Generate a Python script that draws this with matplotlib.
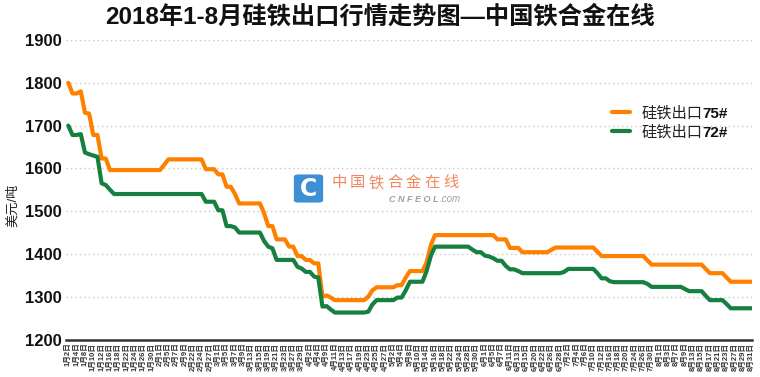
import matplotlib
matplotlib.use('Agg')
import matplotlib.pyplot as plt
from matplotlib.patches import FancyBboxPatch

FAM = ['Liberation Sans', 'Noto Sans CJK SC', 'DejaVu Sans']
plt.rcParams['font.family'] = FAM

# ---------------- data ----------------
dates = [
    "1月2日", "1月3日", "1月4日", "1月5日", "1月8日", "1月9日", "1月10日", "1月11日", "1月12日", "1月15日",
    "1月16日", "1月17日", "1月18日", "1月19日", "1月22日", "1月23日", "1月24日", "1月25日", "1月26日", "1月29日",
    "1月30日", "1月31日", "2月1日", "2月2日", "2月5日", "2月6日", "2月7日", "2月8日", "2月9日", "2月12日",
    "2月22日", "2月23日", "2月24日", "2月26日", "2月27日", "2月28日", "3月1日", "3月2日", "3月5日", "3月6日",
    "3月7日", "3月8日", "3月9日", "3月12日", "3月13日", "3月14日", "3月15日", "3月16日", "3月19日", "3月20日",
    "3月21日", "3月22日", "3月23日", "3月26日", "3月27日", "3月28日", "3月29日", "3月30日", "4月2日", "4月3日",
    "4月4日", "4月8日", "4月9日", "4月10日", "4月11日", "4月12日", "4月13日", "4月16日", "4月17日", "4月18日",
    "4月19日", "4月20日", "4月23日", "4月24日", "4月25日", "4月26日", "4月27日", "4月28日", "5月2日", "5月3日",
    "5月4日", "5月7日", "5月8日", "5月9日", "5月10日", "5月11日", "5月14日", "5月15日", "5月16日", "5月17日",
    "5月18日", "5月21日", "5月22日", "5月23日", "5月24日", "5月25日", "5月28日", "5月29日", "5月30日", "5月31日",
    "6月1日", "6月4日", "6月5日", "6月6日", "6月7日", "6月8日", "6月11日", "6月12日", "6月13日", "6月14日",
    "6月15日", "6月19日", "6月20日", "6月21日", "6月22日", "6月25日", "6月26日", "6月27日", "6月28日", "6月29日",
    "7月2日", "7月3日", "7月4日", "7月5日", "7月6日", "7月9日", "7月10日", "7月11日", "7月12日", "7月13日",
    "7月16日", "7月17日", "7月18日", "7月19日", "7月20日", "7月23日", "7月24日", "7月25日", "7月26日", "7月27日",
    "7月30日", "7月31日", "8月1日", "8月2日", "8月3日", "8月6日", "8月7日", "8月8日", "8月9日", "8月10日",
    "8月13日", "8月14日", "8月15日", "8月16日", "8月17日", "8月20日", "8月21日", "8月22日", "8月23日", "8月24日",
    "8月27日", "8月28日", "8月29日", "8月30日", "8月31日",
]

fesi75 = [
    1800, 1775, 1775, 1780, 1730, 1728, 1678, 1678, 1623, 1623,
    1596, 1596, 1596, 1596, 1596, 1596, 1596, 1596, 1596, 1596,
    1596, 1596, 1596, 1608, 1621, 1621, 1621, 1621, 1621, 1621,
    1621, 1621, 1621, 1598, 1598, 1598, 1586, 1586, 1557, 1557,
    1540, 1518, 1518, 1518, 1518, 1518, 1518, 1495, 1465, 1465,
    1434, 1434, 1434, 1417, 1417, 1395, 1395, 1386, 1386, 1378,
    1378, 1300, 1303, 1298, 1292, 1292, 1292, 1292, 1292, 1292,
    1292, 1292, 1300, 1315, 1322, 1322, 1322, 1322, 1322, 1327,
    1327, 1345, 1360, 1360, 1360, 1360, 1380, 1420, 1444, 1444,
    1444, 1444, 1444, 1444, 1444, 1444, 1444, 1444, 1444, 1444,
    1444, 1444, 1444, 1434, 1434, 1434, 1414, 1414, 1414, 1404,
    1404, 1404, 1404, 1404, 1404, 1404, 1410, 1415, 1415, 1415,
    1415, 1415, 1415, 1415, 1415, 1415, 1415, 1405, 1395, 1395,
    1395, 1395, 1395, 1395, 1395, 1395, 1395, 1395, 1395, 1385,
    1375, 1375, 1375, 1375, 1375, 1375, 1375, 1375, 1375, 1375,
    1375, 1375, 1375, 1365, 1355, 1355, 1355, 1355, 1345, 1335,
    1335, 1335, 1335, 1335, 1335,
]

fesi72 = [
    1700, 1678, 1678, 1680, 1637, 1633, 1630, 1627, 1565, 1561,
    1550, 1540, 1540, 1540, 1540, 1540, 1540, 1540, 1540, 1540,
    1540, 1540, 1540, 1540, 1540, 1540, 1540, 1540, 1540, 1540,
    1540, 1540, 1540, 1522, 1522, 1522, 1502, 1502, 1465, 1465,
    1462, 1450, 1450, 1450, 1450, 1450, 1450, 1430, 1417, 1413,
    1386, 1386, 1386, 1386, 1386, 1370, 1366, 1358, 1358, 1347,
    1345, 1277, 1278, 1270, 1263, 1263, 1263, 1263, 1263, 1263,
    1263, 1263, 1265, 1282, 1292, 1292, 1292, 1292, 1292, 1298,
    1298, 1315, 1335, 1335, 1335, 1335, 1360, 1395, 1417, 1417,
    1417, 1417, 1417, 1417, 1417, 1417, 1417, 1410, 1404, 1404,
    1396, 1394, 1390, 1384, 1384, 1372, 1364, 1364, 1360, 1355,
    1355, 1355, 1355, 1355, 1355, 1355, 1355, 1355, 1355, 1358,
    1365, 1365, 1365, 1365, 1365, 1365, 1365, 1355, 1343, 1343,
    1336, 1334, 1334, 1334, 1334, 1334, 1334, 1334, 1334, 1330,
    1323, 1323, 1323, 1323, 1323, 1323, 1323, 1323, 1318, 1313,
    1313, 1313, 1313, 1302, 1292, 1292, 1292, 1292, 1283, 1273,
    1273, 1273, 1273, 1273, 1273,
]

series_names = ["硅铁出口", "硅铁出口"]
series_codes = ["75#", "72#"]
y_ticks = [1200, 1300, 1400, 1500, 1600, 1700, 1800, 1900]

title = "2018年1-8月硅铁出口行情走势图—中国铁合金在线"
y_label = "美元/吨"
wm_cn = "中国铁合金在线"

C75 = '#FF8000'
C72 = '#15803F'

# ---------------- figure ----------------
W, H = 760, 377
fig = plt.figure(figsize=(W / 100, H / 100), dpi=100)
L, R, T, B = 65.8, 752.0, 40.0, 339.5
ax = fig.add_axes([L / W, 1 - B / H, (R - L) / W, (B - T) / H])

x = list(range(len(dates)))
l1, = ax.plot(x, fesi75, color=C75, lw=3.0, solid_joinstyle='round',
              solid_capstyle='round', zorder=3)
l2, = ax.plot(x, fesi72, color=C72, lw=3.0, solid_joinstyle='round',
              solid_capstyle='round', zorder=3)

ax.set_xlim(-0.6, len(dates) - 0.9)
ax.set_ylim(y_ticks[0], y_ticks[-1])

ax.set_yticks(y_ticks)
ax.set_yticklabels([str(v) for v in y_ticks], fontsize=12, fontweight='bold',
                   color='#111111')
ax.set_xticks(x[::2])
ax.set_xticklabels(dates[::2], rotation=90, fontsize=5.5, fontweight='bold',
                   color='#333333')
ax.tick_params(axis='y', length=0, pad=2.8)
ax.tick_params(axis='x', length=0, pad=2.2)

for v in y_ticks[1:]:
    ax.axhline(v, color='#c8c8c8', lw=1.0, ls=(0, (1, 2.2)), zorder=1)

for s in ['top', 'left', 'right']:
    ax.spines[s].set_visible(False)
ax.spines['bottom'].set_color('#333333')
ax.spines['bottom'].set_linewidth(1.8)

# title & y label
fig.text(0.5, 1 - 17 / H, title, ha='center', va='center', fontsize=17.5,
         fontweight='bold', color='#111111')
fig.text(13 / W, 1 - 205 / H, y_label, rotation=90, ha='center', va='center',
         fontsize=9.5, color='#222222')

# legend
leg = ax.legend([l1, l2], series_names, loc='upper left',
                bbox_to_anchor=(612 / W, 1 - 106 / H),
                bbox_transform=fig.transFigure, frameon=False, fontsize=11,
                handlelength=1.2, handletextpad=0.72, borderpad=0,
                borderaxespad=0, labelspacing=0.32)
for txt in leg.get_texts():
    txt.set_color('#222222')
fig.canvas.draw()
fw, fh = fig.bbox.width, fig.bbox.height
for txt, code in zip(leg.get_texts(), series_codes):
    bb = txt.get_window_extent()
    fig.text(bb.x1 / fw, (bb.y0 + bb.y1) / 2 / fh - 0.5 / fh, code,
             ha='left', va='center', fontsize=11, fontweight='bold',
             color='#111111')

# watermark
logo = FancyBboxPatch((295 / W, 1 - 202 / H), 27 / W, 27 / H,
                      boxstyle='round,pad=0.0015,rounding_size=0.006',
                      transform=fig.transFigure, facecolor='#3D8FD6',
                      edgecolor='none', zorder=2)
fig.patches.append(logo)
fig.text(308.5 / W, 1 - 188.5 / H, "C", ha='center', va='center', fontsize=17,
         fontweight='bold', color='white', family='DejaVu Sans')
for k, ch in enumerate(wm_cn):
    fig.text((339 + 18.6 * k) / W, 1 - 183 / H, ch, ha='center', va='center',
             fontsize=11, color='#F2875F')
fig.text(389 / W, 1 - 199.5 / H, "C N F E O L", ha='left', va='center',
         fontsize=6.5, fontweight='bold', style='italic', color='#A0A0A0')
fig.text(440 / W, 1 - 199.5 / H, ".com", ha='left', va='center',
         fontsize=7, style='italic', color='#A0A0A0')

fig.savefig('out.png', dpi=100)
